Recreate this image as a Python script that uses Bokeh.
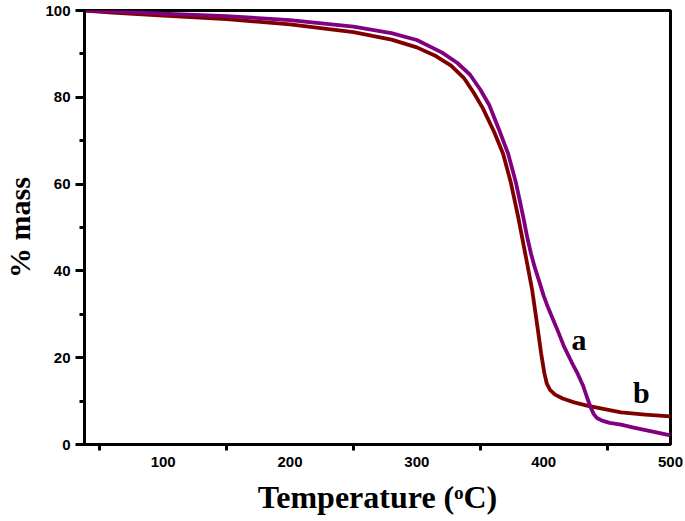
from bokeh.plotting import figure
from bokeh.models import FixedTicker, Label, Range1d
from bokeh.embed import file_html
from bokeh.resources import INLINE

# Curve a (purple)
temp_a = [38, 60, 100, 150, 200, 250, 280, 300, 320, 332, 342, 350, 357, 365, 372, 378, 384, 387, 390, 393, 396.5, 400, 403, 407, 411, 416, 422, 427, 431, 434, 437, 439.5, 442, 446, 452, 461, 471, 485, 500]
mass_a = [100, 99.8, 99.3, 98.7, 97.8, 96.3, 94.8, 93.2, 90.3, 87.9, 85.2, 81.8, 78.3, 72.4, 67.0, 60.5, 52.3, 47.8, 44.0, 40.8, 37.6, 34.3, 31.9, 29.1, 26.3, 22.6, 19.0, 16.2, 13.6, 11.0, 8.6, 7.0, 6.1, 5.5, 5.0, 4.6, 3.9, 3.0, 2.1]

# Curve b (dark red)
temp_b = [38, 60, 100, 150, 200, 250, 280, 300, 315, 327, 337, 345, 352, 361, 368, 374, 380, 386, 391, 395.5, 398, 400.5, 402.5, 405, 409, 415, 424, 435, 445, 461, 480, 500]
mass_b = [100, 99.5, 98.8, 98.0, 96.8, 95.0, 93.3, 91.5, 89.5, 87.3, 84.5, 81.0, 77.5, 72.0, 67.0, 60.5, 52.3, 43.2, 35.5, 26.3, 21.0, 16.5, 14.0, 12.6, 11.5, 10.6, 9.7, 8.9, 8.3, 7.4, 6.9, 6.5]

x_ticks = [100, 200, 300, 400, 500]
x_minor = [50, 150, 250, 350, 450]
y_ticks = [0, 20, 40, 60, 80, 100]
y_minor = [10, 30, 50, 70, 90]

p = figure(width=685, height=521, output_backend="svg", toolbar_location=None,
           x_range=Range1d(38, 500), y_range=Range1d(0, 100),
           min_border_left=83, min_border_right=15, min_border_top=10, min_border_bottom=77)
p.grid.visible = False
p.outline_line_color = "black"
p.outline_line_width = 3

p.line(temp_b, mass_b, line_color="#800000", line_width=3.8, line_join="round")
p.line(temp_a, mass_a, line_color="#800080", line_width=3.8, line_join="round")

xa = p.xaxis[0]
xa.ticker = FixedTicker(ticks=x_ticks, minor_ticks=x_minor)
xa.axis_line_width = 3
xa.major_tick_out = 0
xa.major_tick_in = 0
xa.minor_tick_out = 6
xa.minor_tick_in = 0
xa.minor_tick_line_width = 3
xa.major_label_text_font = "Liberation Sans"
xa.major_label_text_font_style = "bold"
xa.major_label_text_font_size = "15px"
xa.major_label_text_color = "black"
xa.major_label_standoff = 6
xa.axis_label = "Temperature (\u1d52C)"
xa.axis_label_text_font = "Liberation Serif"
xa.axis_label_text_font_style = "bold"
xa.axis_label_text_font_size = "32px"
xa.axis_label_text_color = "black"
xa.axis_label_standoff = 9

ya = p.yaxis[0]
ya.ticker = FixedTicker(ticks=y_ticks, minor_ticks=y_minor)
ya.axis_line_width = 3
ya.major_tick_out = 9
ya.major_tick_in = 0
ya.major_tick_line_width = 3
ya.minor_tick_out = 5
ya.minor_tick_in = 0
ya.minor_tick_line_width = 3
ya.major_label_text_font = "Liberation Sans"
ya.major_label_text_font_style = "bold"
ya.major_label_text_font_size = "15px"
ya.major_label_text_color = "black"
ya.major_label_standoff = 5
ya.axis_label = "% mass"
ya.axis_label_text_font = "Liberation Serif"
ya.axis_label_text_font_style = "bold"
ya.axis_label_text_font_size = "30px"
ya.axis_label_text_color = "black"
ya.axis_label_standoff = 6

lab_font = "Liberation Serif"
p.add_layout(Label(x=427.8, y=20.5, text="a", text_align="center", text_color="black",
                   text_font=lab_font, text_font_style="bold", text_font_size="30px"))
p.add_layout(Label(x=477, y=8.2, text="b", text_align="center", text_color="black",
                   text_font=lab_font, text_font_style="bold", text_font_size="30px"))

open("out.html", "w").write(file_html(p, INLINE))
